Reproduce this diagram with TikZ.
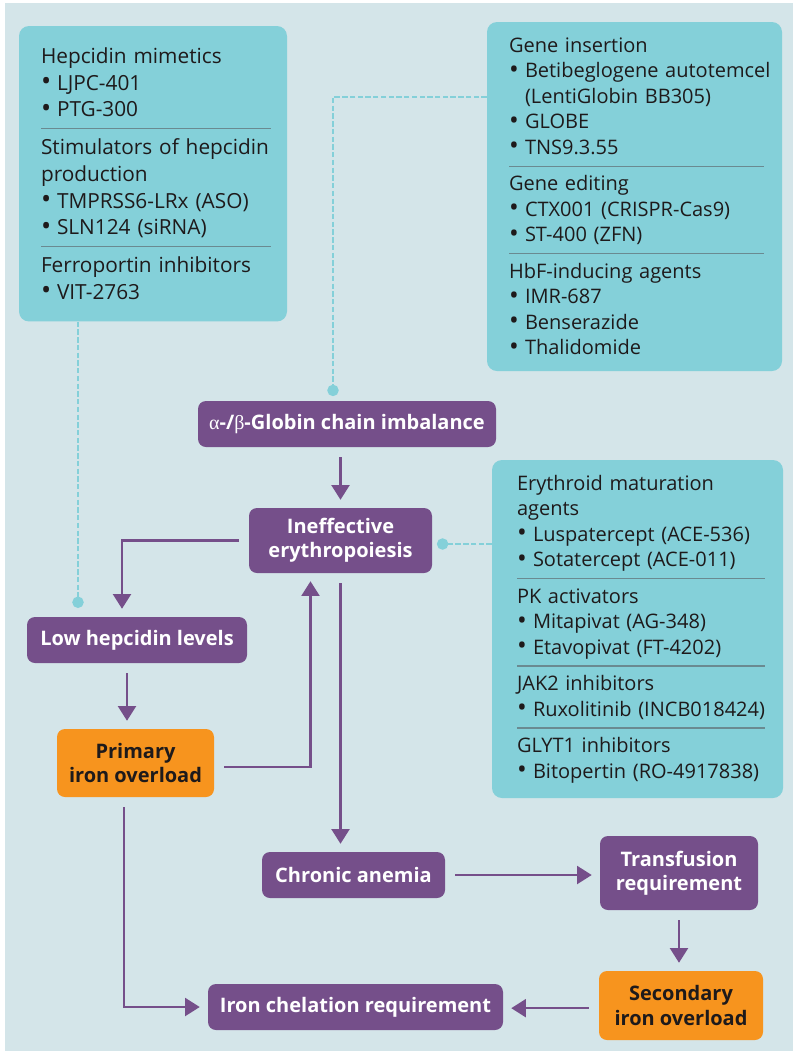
\documentclass[tikz,border=0pt]{standalone}
\usepackage{fontspec}
\usepackage{graphicx}
\setmainfont{Open Sans}
\newfontfamily\greekserif{Liberation Serif}
\usetikzlibrary{arrows.meta}
\hyphenpenalty=10000

\definecolor{bgblue}{HTML}{D4E5E9}
\definecolor{boxteal}{HTML}{84D0D9}
\definecolor{flowpurple}{HTML}{754F8A}
\definecolor{ironorange}{HTML}{F7941E}
\definecolor{darktext}{HTML}{1E1A1B}
\definecolor{rulegray}{HTML}{6A8A91}

\newcommand{\itm}{\makebox[12pt][l]{\raisebox{-0.4pt}{\scalebox{1.3}{\textbullet}}}}
\newcommand{\cont}{\hspace*{12pt}}
\newcommand{\grp}[2][17.9pt]{\leavevmode\rlap{\smash{\color{rulegray}\rule[#1]{#2}{1.1pt}}}}

\begin{document}
\begin{tikzpicture}[x=0.75pt, y=-0.75pt,
		druglist/.style={fill=boxteal, rounded corners=7.5pt, align=left, text=darktext,
			font=\fontsize{15}{19.1}\selectfont, inner sep=0pt},
		stage/.style={fill=flowpurple, rounded corners=6pt, align=center, text=white,
			font=\bfseries\fontsize{15}{18.2}\selectfont, inner sep=0pt},
		overload/.style={stage, fill=ironorange, text=darktext},
		flow/.style={draw=flowpurple, line width=1.6pt, -{Triangle[width=13.5pt, length=11pt]},
			shorten <=7.5pt, shorten >=6pt},
		link/.style={draw=boxteal, line width=2pt, dash pattern=on 4pt off 1.8pt,
			-{Circle[length=8.5pt]}, shorten >=3.5pt}]
			%%%%% START %%%%%
			
			\useasboundingbox (0, 0) rectangle (793, 1051);
			\fill[bgblue] (5, 3) rectangle (793, 1051);
			
			% treatment boxes
			\node[druglist, font=\fontsize{15.6}{20}\selectfont, text width=168pt, minimum width=201pt, minimum height=221.6pt] (hepbox) at (153, 173.75) {%
				Hepcidin mimetics\\
				\itm LJPC-401\\
				\itm PTG-300\\[8.5pt]
				\grp[19.2pt]{172.5pt}\mbox{Stimulators of hepcidin}\\
				production\\
				\itm TMPRSS6-LRx (ASO)\\
				\itm SLN124 (siRNA)\\[8.5pt]
				\grp[19.2pt]{172.5pt}Ferroportin inhibitors\\
				\itm VIT-2763};
			
			\node[druglist, text width=188.25pt, minimum width=221.25pt, minimum height=261.75pt] (genebox) at (634.5, 196.5) {%
				Gene insertion\\
				\mbox{\itm Betibeglogene autotemcel}\\
				\cont(LentiGlobin BB305)\\
				\itm GLOBE\\
				\itm TNS9.3.55\\[8.25pt]
				\grp{191.25pt}Gene editing\\
				\mbox{\itm CTX001 (CRISPR-Cas9)}\\
				\itm ST-400 (ZFN)\\[8.25pt]
				\grp{191.25pt}HbF-inducing agents\\
				\itm IMR-687\\
				\itm Benserazide\\
				\itm Thalidomide};
			
			\node[druglist, text width=180.75pt, minimum width=218.25pt, minimum height=253.5pt] (matbox) at (637.5, 629) {%
				Erythroid maturation\\
				agents\\
				\mbox{\itm Luspatercept (ACE-536)}\\
				\mbox{\itm Sotatercept (ACE-011)}\\[8.25pt]
				\grp{186pt}PK activators\\
				\itm Mitapivat (AG-348)\\
				\itm Etavopivat (FT-4202)\\[8.25pt]
				\grp{186pt}JAK2 inhibitors\\
				\mbox{\itm Ruxolitinib (INCB018424)}\\[8.25pt]
				\grp{186pt}GLYT1 inhibitors\\
				\mbox{\itm Bitopertin (RO-4917838)}};
			
			% disease stages
			\node[stage, minimum width=223.5pt, minimum height=34.5pt] (glob) at (347, 424)
				{{\greekserif\mdseries α}-/{\greekserif\mdseries β}-Globin chain imbalance};
			\node[stage, minimum width=137.25pt, minimum height=48.75pt] (ineff) at (340.5, 540.5)
				{Ineffective\\erythropoiesis};
			\node[stage, minimum width=165pt, minimum height=34.5pt] (lowhep) at (137, 640) {Low hepcidin levels};
			\node[overload, minimum width=117.75pt, minimum height=51pt] (primary) at (135.5, 763)
				{Primary\\iron overload};
			\node[stage, minimum width=137.25pt, minimum height=34.5pt] (chronic) at (353.5, 875) {Chronic anemia};
			\node[stage, minimum width=118.5pt, minimum height=55.5pt] (transf) at (679, 873)
				{Transfusion\\requirement};
			\node[overload, minimum width=123pt, minimum height=51.75pt] (second) at (681, 1005.5)
				{Secondary\\iron overload};
			\node[stage, minimum width=221.25pt, minimum height=34.5pt] (chel) at (355.5, 1007) {Iron chelation requirement};
			
			% arrows
			\draw[flow] (glob.south -| ineff.north) -- (ineff.north);
			\draw[flow] (ineff.west) -| ([xshift=-11.25pt]lowhep.north);
			\draw[flow] ([xshift=-7.5pt]lowhep.south) -- ([xshift=-7.5pt]lowhep.south |- primary.north);
			\draw[flow] ([yshift=-3pt]primary.east) -| ([xshift=-22.5pt]ineff.south);
			\draw[flow] (ineff.south) -- (ineff.south |- chronic.north);
			\draw[flow] (chronic.east) -- (chronic.east -| transf.west);
			\draw[flow] (transf.south) -- (transf.south |- second.north);
			\draw[flow] ([yshift=-2pt]second.west) -- ([yshift=-2pt]second.west -| chel.east);
			\draw[flow] ([xshift=-8.6pt]primary.south) |- (chel.west);
			
			% dotted links to the treatments
			\draw[link, shorten >=6.6pt] ([xshift=-56.25pt]hepbox.south) -- ([xshift=-56.25pt]hepbox.south |- lowhep.north);
			\draw[link] ([yshift=74.6pt]genebox.west) -| ([xshift=-10.5pt]glob.north);
			\draw[link] ([yshift=63.75pt]matbox.west) -- ([yshift=63.75pt]matbox.west -| ineff.east);
			
			%%%%% END %%%%%
\end{tikzpicture}
\end{document}
